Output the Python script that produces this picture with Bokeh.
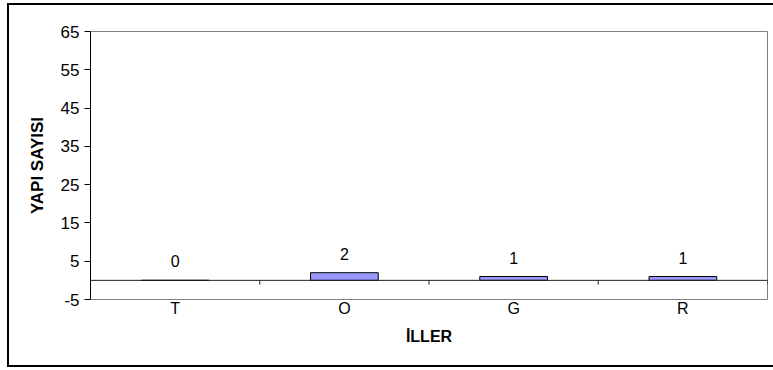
from bokeh.plotting import figure
from bokeh.models import ColumnDataSource, FactorRange, Range1d, FixedTicker, Span
from bokeh.transform import dodge
from bokeh.core.properties import value
from bokeh.embed import file_html
from bokeh.resources import INLINE

# data
categories = ["T", "O", "G", "R"]
values = [0, 2, 1, 1]
y_ticks = [-5, 5, 15, 25, 35, 45, 55, 65]
x_title = "İLLER"
y_title = "YAPI SAYISI"

FONT = "Liberation Sans"

src = ColumnDataSource(dict(cat=categories, val=values, lbl=[str(v) for v in values]))

p = figure(
    x_range=FactorRange(*categories),
    y_range=Range1d(y_ticks[0], y_ticks[-1]),
    width=766, height=364,
    output_backend="svg", toolbar_location=None,
    min_border_left=81, min_border_right=8, min_border_top=26, min_border_bottom=70,
)
# outer chart border
p.styles = {"border": "2px solid black", "border-right": "none",
            "margin-left": "7px", "margin-top": "3px"}

p.background_fill_color = "white"
p.border_fill_color = "white"
p.outline_line_color = "#808080"
p.outline_line_width = 1
p.xgrid.grid_line_color = None
p.ygrid.grid_line_color = None

# y axis
ya = p.yaxis[0]
ya.ticker = FixedTicker(ticks=y_ticks)
ya.major_label_overrides = {t: str(t) for t in y_ticks}
ya.minor_tick_line_color = None
ya.major_tick_in = 0
ya.major_tick_out = 6
ya.axis_line_color = "black"
ya.major_tick_line_color = "black"
ya.major_label_text_font = FONT
ya.major_label_text_font_size = "17px"
ya.major_label_text_color = "black"
ya.major_label_standoff = 5
ya.axis_label = y_title
ya.axis_label_text_font = FONT
ya.axis_label_text_font_size = "17px"
ya.axis_label_text_font_style = "bold"
ya.axis_label_text_color = "black"
ya.axis_label_standoff = 11

# x axis
xa = p.xaxis[0]
xa.axis_line_color = None
xa.major_tick_line_color = None
xa.minor_tick_line_color = None
xa.major_tick_in = 0
xa.major_tick_out = 0
xa.major_label_text_font = FONT
xa.major_label_text_font_size = "16px"
xa.major_label_text_color = "black"
xa.major_label_standoff = 0
xa.axis_label = x_title
xa.axis_label_text_font = FONT
xa.axis_label_text_font_size = "16px"
xa.axis_label_text_font_style = "bold"
xa.axis_label_text_color = "black"
xa.axis_label_standoff = 8

# zero line (category axis)
p.add_layout(Span(location=0, dimension="width", line_color="#202020", line_width=1))

# category separator ticks
p.segment(x0=dodge("cat", 0.5, range=p.x_range), x1=dodge("cat", 0.5, range=p.x_range),
          y0=0, y1=-1.1, source=src, line_color="#202020", line_width=1)

# bars
p.vbar(x="cat", top="val", bottom=0, width=0.4, source=src,
       fill_color="#9999FF", line_color="black", line_width=1)

# data labels
p.text(x="cat", y="val", text="lbl", source=src, text_align="center",
       text_baseline="middle", y_offset=-19, text_font=value(FONT),
       text_font_size="16px", text_color="black")

open("out.html", "w").write(file_html(p, INLINE))
